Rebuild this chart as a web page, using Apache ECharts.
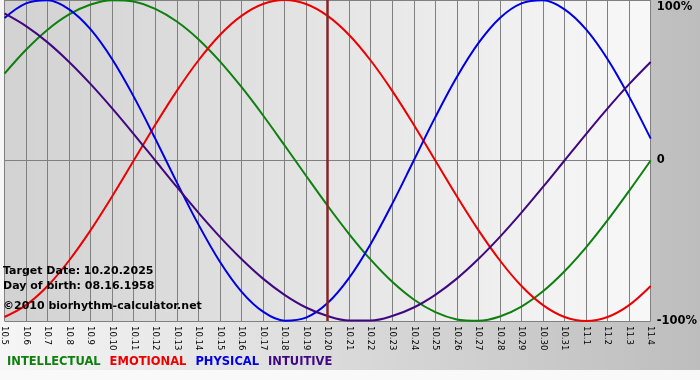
<!DOCTYPE html>
<html>
<head>
<meta charset="utf-8">
<script src="https://cdn.jsdelivr.net/npm/echarts@6/dist/echarts.min.js"></script>
<style>
  html, body { margin: 0; padding: 0; background: #fff; }
  #chart { width: 700px; height: 380px; }
</style>
</head>
<body>
<div id="chart"></div>
<script>
  const days = [
    '10.5', '10.6', '10.7', '10.8', '10.9', '10.10', '10.11', '10.12',
    '10.13', '10.14', '10.15', '10.16', '10.17', '10.18', '10.19', '10.20',
    '10.21', '10.22', '10.23', '10.24', '10.25', '10.26', '10.27', '10.28',
    '10.29', '10.30', '10.31', '11.1', '11.2', '11.3', '11.4'
  ];
  const targetDay = '10.20';

  // percent values, one per day
  const intellectual = [
    54.1, 69.0, 81.5, 91.0, 97.2, 99.9, 99.0, 94.5, 86.6, 75.6, 61.8,
    45.8, 28.2, 9.5, -9.5, -28.2, -45.8, -61.8, -75.6, -86.6, -94.5,
    -99.0, -99.9, -97.2, -91.0, -81.5, -69.0, -54.1, -37.2, -18.9, 0
  ];
  const emotional = [
    -97.5, -90.1, -78.2, -62.3, -43.4, -22.3, 0, 22.3, 43.4, 62.3, 78.2,
    90.1, 97.5, 100, 97.5, 90.1, 78.2, 62.3, 43.4, 22.3, 0,
    -22.3, -43.4, -62.3, -78.2, -90.1, -97.5, -100, -97.5, -90.1, -78.2
  ];
  const physical = [
    88.8, 97.9, 99.8, 94.2, 81.7, 63.1, 39.8, 13.6, -13.6, -39.8, -63.1,
    -81.7, -94.2, -99.8, -97.9, -88.8, -73.1, -52.0, -27.0, 0, 27.0,
    52.0, 73.1, 88.8, 97.9, 99.8, 94.2, 81.7, 63.1, 39.8, 13.6
  ];
  const intuitive = [
    91.6, 83.7, 73.6, 61.4, 47.6, 32.5, 16.5, 0, -16.5, -32.5, -47.6,
    -61.4, -73.6, -83.7, -91.6, -96.9, -99.7, -99.7, -96.9, -91.6, -83.7,
    -73.6, -61.4, -47.6, -32.5, -16.5, 0, 16.5, 32.5, 47.6, 61.4
  ];

  const infoLines = [
    'Target Date: 10.20.2025',
    'Day of birth: 08.16.1958',
    '\u00a92010 biorhythm-calculator.net'
  ];

  const colors = {
    INTELLECTUAL: '#0f7f0f',
    EMOTIONAL: '#ee0000',
    PHYSICAL: '#0000e6',
    INTUITIVE: '#3f0880'
  };

  const chart = echarts.init(document.getElementById('chart'));

  const makeLine = (name, data) => ({
    name,
    type: 'line',
    data,
    smooth: 0.35,
    showSymbol: false,
    silent: true,
    lineStyle: { color: colors[name], width: 2 },
    itemStyle: { color: colors[name] }
  });

  const series = [
    makeLine('INTELLECTUAL', intellectual),
    makeLine('EMOTIONAL', emotional),
    makeLine('PHYSICAL', physical),
    makeLine('INTUITIVE', intuitive)
  ];
  series[0].markLine = {
    silent: true,
    symbol: 'none',
    label: { show: false },
    lineStyle: { color: '#842525', width: 2.5, type: 'solid' },
    data: [{ xAxis: targetDay }]
  };

  chart.setOption({
    animation: false,
    backgroundColor: {
      type: 'linear', x: 0, y: 0, x2: 1, y2: 0,
      colorStops: [
        { offset: 0, color: '#f6f6f6' },
        { offset: 1, color: '#bdbdbd' }
      ]
    },
    textStyle: { fontFamily: 'DejaVu Sans' },
    grid: {
      left: 0,
      right: 49,
      top: 0,
      bottom: 59,
      show: true,
      borderWidth: 0,
      backgroundColor: {
        type: 'linear', x: 0, y: 0, x2: 1, y2: 0,
        colorStops: [
          { offset: 0, color: '#d2d2d2' },
          { offset: 1, color: '#f8f8f8' }
        ]
      }
    },
    legend: {
      left: 2,
      top: 356,
      padding: 0,
      itemGap: 4,
      itemWidth: 0,
      itemHeight: 0,
      icon: 'rect',
      selectedMode: false,
      textStyle: { fontFamily: 'DejaVu Sans', fontWeight: 'bold', fontSize: 11.5 },
      data: Object.keys(colors).map(name => ({
        name,
        textStyle: { color: colors[name] }
      }))
    },
    xAxis: {
      type: 'category',
      data: days,
      boundaryGap: false,
      axisLine: { lineStyle: { color: '#808080' } },
      axisTick: { show: true, length: 4, lineStyle: { color: '#808080' } },
      axisLabel: {
        rotate: -90,
        interval: 0,
        margin: 5,
        color: '#000',
        fontSize: 8.5,
        fontFamily: 'DejaVu Sans'
      },
      splitLine: { show: true, interval: 0, lineStyle: { color: '#808080', width: 1 } }
    },
    yAxis: {
      type: 'value',
      position: 'right',
      min: -100,
      max: 100,
      interval: 100,
      axisLine: { show: false },
      axisTick: { show: false },
      splitLine: { show: true, lineStyle: { color: '#808080', width: 1 } },
      axisLabel: {
        margin: 6,
        color: '#000',
        fontWeight: 'bold',
        fontSize: 11.5,
        fontFamily: 'DejaVu Sans',
        formatter: v => (v === 100 ? '{top|100%}' : v === 0 ? '0' : v + '%'),
        rich: {
          top: {
            fontWeight: 'bold',
            fontSize: 11.5,
            fontFamily: 'DejaVu Sans',
            color: '#000',
            padding: [14, 0, 0, 0]
          }
        }
      }
    },
    graphic: [
      {
        type: 'rect',
        left: 0,
        top: 370,
        shape: { width: 700, height: 10 },
        style: { fill: '#f9f9f9' },
        silent: true
      },
      ...infoLines.map((line, i) => ({
        type: 'text',
        left: 3,
        top: [266, 281, 301][i],
        z: 100,
        silent: true,
        style: {
          text: line,
          fill: '#000',
          font: 'bold 11px "DejaVu Sans"'
        }
      }))
    ],
    series
  });
</script>
</body>
</html>
